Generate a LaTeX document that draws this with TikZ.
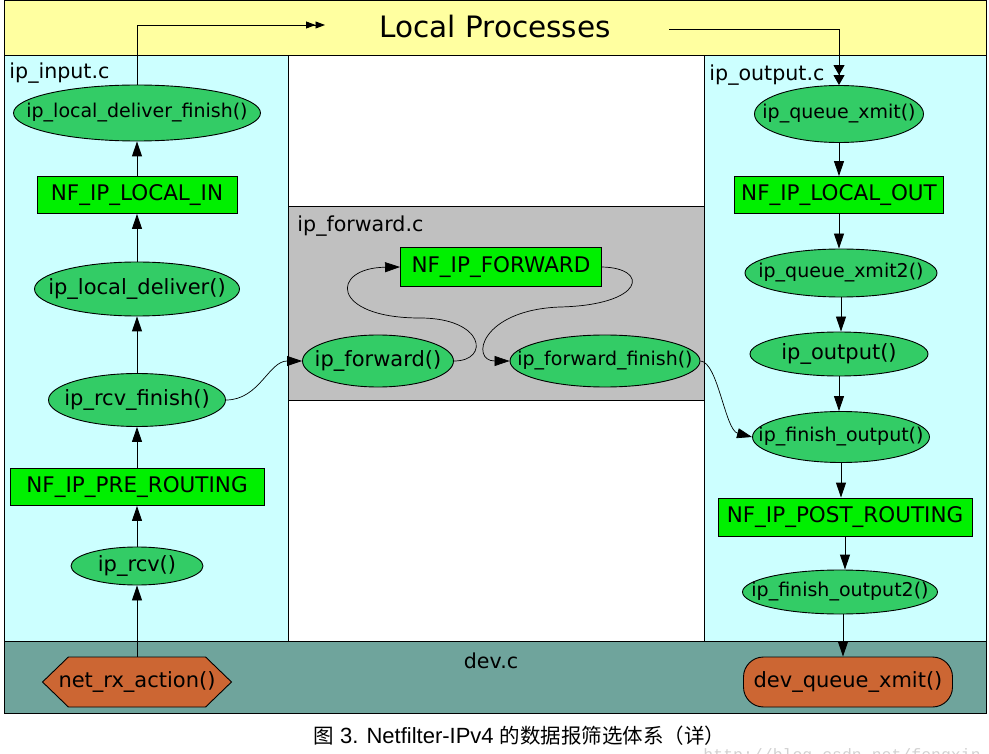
\documentclass[tikz,border=0pt]{standalone}
\usepackage{fontspec}
\setmainfont{DejaVu Sans}
\newfontfamily\cjkfont{Noto Sans CJK SC}
\newfontfamily\capfont{Liberation Sans}
\newfontfamily\wmfont{Liberation Mono}
\usepackage{tikz}
\usetikzlibrary{shapes.geometric, shapes.symbols, arrows.meta, positioning}
\definecolor{lpyellow}{RGB}{255,255,160}
\definecolor{filecyan}{RGB}{204,255,255}
\definecolor{fwdgray}{RGB}{192,192,192}
\definecolor{devteal}{RGB}{111,164,156}
\definecolor{funcgreen}{RGB}{51,204,102}
\definecolor{hookgreen}{RGB}{0,240,0}
\definecolor{devorange}{RGB}{204,102,51}
\newcommand{\nodesmall}{\fontsize{19}{22}\selectfont}
\newcommand{\nodebig}{\fontsize{21}{24}\selectfont}
\newcommand{\clusterfont}{\fontsize{20.6}{24}\selectfont}
\newcommand{\zw}[1]{\makebox[0pt]{#1}}
\tikzset{
    func/.style={
        ellipse,
        draw=black,
        fill=funcgreen,
        inner sep=0pt,
        font=\nodesmall,
    },
    hook/.style={
        rectangle,
        draw=black,
        fill=hookgreen,
        inner sep=0pt,
        font=\fontsize{21.5}{24}\selectfont,
    },
    devfunc/.style={
        draw=black,
        fill=devorange,
        inner sep=0pt,
        font=\nodebig,
    },
    cluster/.style={
        draw=black,
        line width=1pt,
    },
}

\begin{document}
\begin{tikzpicture}[x=1pt,y=-1pt,>={Triangle[length=15pt,width=10pt]},line width=0.9pt]
      \useasboundingbox (0,0) rectangle (989,754);

      % source files
      \filldraw[cluster, fill=lpyellow] (4,1) rectangle (986,56);
      \filldraw[cluster, fill=filecyan] (4,56) rectangle (288,641);
      \filldraw[cluster, fill=white] (288,56) rectangle (704,641);
      \filldraw[cluster, fill=fwdgray] (288,207) rectangle (704,400);
      \filldraw[cluster, fill=filecyan] (704,56) rectangle (986,641);
      \filldraw[cluster, fill=devteal] (4,641) rectangle (986,713);

      \node [anchor=base west, inner sep=0pt, font=\fontsize{29.5}{34}\selectfont] (lp) at (379,38) {Local Processes};
      \node [anchor=base west, inner sep=0pt, font=\clusterfont] (input-c) at (9,79) {ip\_input.c};
      \node [anchor=base west, inner sep=0pt, font=\clusterfont] (output-c) at (709,81) {ip\_output.c};
      \node [anchor=base west, inner sep=0pt, font=\clusterfont] (forward-c) at (297,232) {ip\_forward.c};
      \node [anchor=base, inner sep=0pt, font=\clusterfont] (dev-c) at (491,668) {dev.c};

      \coordinate (lp-in) at (325,25);
      \coordinate (lp-out) at (669,29);

      % receive path
      \node [devfunc, signal, signal to=west and east, signal pointer angle=88,
             minimum width=189, minimum height=50] (nrx) at (137,682) {\zw{net\_rx\_action()}};
      \node [func, font=\nodebig, minimum width=132, minimum height=38] (rcv) at (137,566) {\zw{ip\_rcv()}};
      \node [hook, minimum width=254, minimum height=37] (pre) at (137,487) {NF\_IP\_PRE\_ROUTING};
      \node [func, font=\nodebig, minimum width=177, minimum height=53] (rcvf) at (137,400) {\zw{ip\_rcv\_finish()}};
      \node [func, font=\nodebig, minimum width=205, minimum height=54] (ld) at (137,289) {\zw{ip\_local\_deliver()}};
      \node [hook, minimum width=200, minimum height=37] (lin) at (137,195) {NF\_IP\_LOCAL\_IN};
      \node [func, minimum width=247, minimum height=56] (ldf) at (137,113) {\zw{ip\_local\_deliver\_finish()}};

      % forward path
      \node [func, font=\nodebig, minimum width=151, minimum height=52] (fwd) at (378,361) {\zw{ip\_forward()}};
      \node [hook, minimum width=201, minimum height=39] (nffwd) at (501,267) {NF\_IP\_FORWARD};
      \node [func, minimum width=190, minimum height=52] (fwdf) at (605,361) {\zw{ip\_forward\_finish()}};

      % output path
      \node [func, minimum width=169, minimum height=57] (qx) at (839,114) {\zw{ip\_queue\_xmit()}};
      \node [hook, minimum width=209, minimum height=37] (lout) at (839,195) {NF\_IP\_LOCAL\_OUT};
      \node [func, minimum width=192, minimum height=48] (qx2) at (841,273) {\zw{ip\_queue\_xmit2()}};
      \node [func, font=\nodebig, minimum width=178, minimum height=44] (out) at (839,354) {\zw{ip\_output()}};
      \node [func, minimum width=177, minimum height=51] (fo) at (841,437) {\zw{ip\_finish\_output()}};
      \node [hook, minimum width=254, minimum height=38] (post) at (845,517) {NF\_IP\_POST\_ROUTING};
      \node [func, minimum width=195, minimum height=44] (fo2) at (840,592) {\zw{ip\_finish\_output2()}};
      \node [devfunc, rectangle, rounded corners=20pt, minimum width=209, minimum height=50] (dqx) at (848,682) {dev\_queue\_xmit()};

      \foreach \a/\b in {nrx/rcv, rcv/pre, pre/rcvf, rcvf/ld, ld/lin, lin/ldf}
          \draw[->] (\a) -- (\b);
      \foreach \a/\b in {qx/lout, lout/qx2, qx2/out, out/fo, fo/post, post/fo2}
          \draw[->] (\a) -- (\a |- \b.north);
      \draw[->] (fo2.south) ++(3,0) coordinate (fo2-out) -- (fo2-out |- dqx.north);

      \draw[-{Triangle[length=9.5pt,width=7pt] Triangle[length=9.5pt,width=7pt]}]
          (ldf.north) |- (lp-in);
      \draw[-{Triangle[length=10pt,width=11pt] Triangle[length=10pt,width=11pt]}]
          (lp-out) -| (qx.north);

      \path[->, line width=0.7pt] (rcvf.east) edge [out=0, in=180] (fwd.west);
      \draw[->, line width=0.7pt] (fwd.east) .. controls (490,361) and (485,318) .. (420,318)
          .. controls (330,318) and (330,268) .. (nffwd.west);
      \draw[->, line width=0.7pt] (nffwd.east) .. controls (650,268) and (645,305) .. (560,307)
          .. controls (480,310) and (470,361) .. (fwdf.west);
      \draw[->, line width=0.7pt] (fwdf.east) .. controls (718,362) and (725,430) .. (fo.west);

      % caption
      \node [anchor=base west, inner sep=0pt, font=\capfont\fontsize{22}{26}\selectfont] (caption) at (313,743)
          {{\cjkfont\fontsize{20.5}{24}\selectfont 图} 3. Netfilter-IPv4 {\cjkfont\fontsize{20.5}{24}\selectfont 的数据报筛选体系（详）}};
      \node [anchor=base west, inner sep=0pt, text=black!18, font=\wmfont\fontsize{16.5}{20}\selectfont] (mark) at (703,760)
          {http://blog.csdn.net/fengxin};
\end{tikzpicture}
\end{document}
